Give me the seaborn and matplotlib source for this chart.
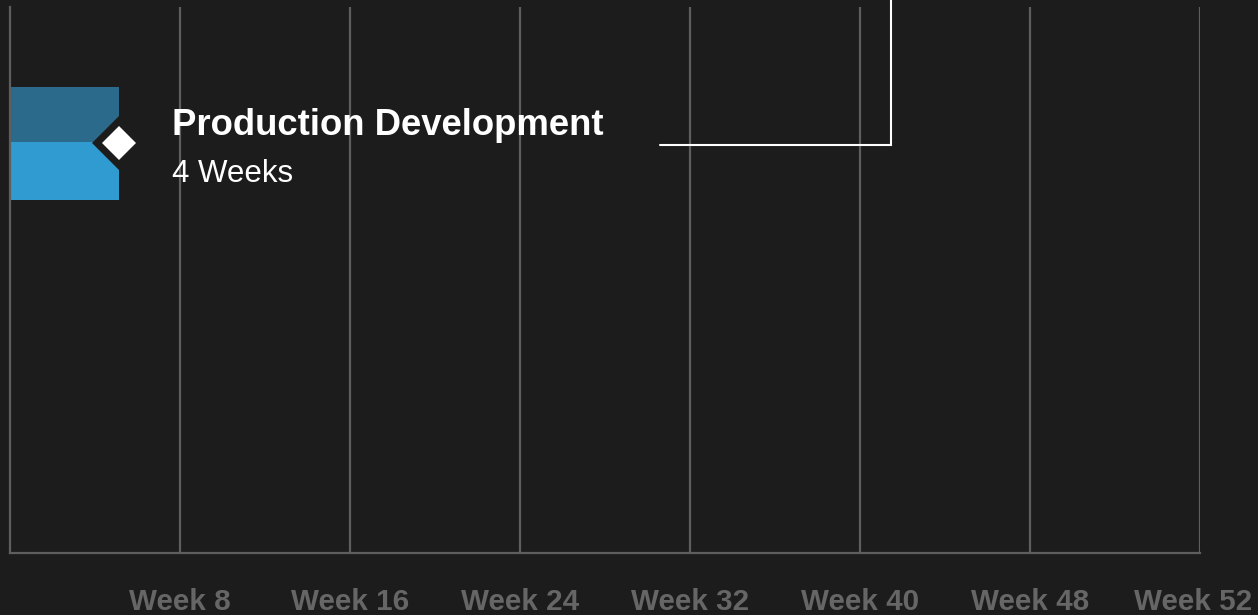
import numpy as np
import pandas as pd
import matplotlib
matplotlib.use("Agg")
import matplotlib.pyplot as plt
import matplotlib.transforms as mtransforms
import seaborn as sns

# data (x in weeks, y in px-like row units from the top)
task_name = "Production Development"
task_label = "4 Weeks"
task_start = 0.0
task_end = 5.13
row_top = 80
row_mid = 135
row_bottom = 193

tick_labels = ["Week 8", "Week 16", "Week 24", "Week 32", "Week 40", "Week 48", "Week 52"]
tick_weeks = [8, 16, 24, 32, 40, 48, 56]

connector_x = [30.6, 41.45, 41.45]
connector_y = [138, 138, -10]

BG = "#1c1c1c"
GRID = "#5e5e5e"

sns.set_theme(style="dark", rc={
    "figure.facecolor": BG,
    "axes.facecolor": BG,
    "savefig.facecolor": BG,
})
plt.rcParams["font.family"] = ["Liberation Sans", "DejaVu Sans"]

fig = plt.figure(figsize=(12.58, 6.15), dpi=100)
ax = fig.add_axes([10 / 1258, (615 - 553) / 615, 1190 / 1258, 546 / 615])

bars = pd.DataFrame({
    "part": ["top", "bottom"],
    "y0": [row_top, row_mid],
    "y1": [row_mid, row_bottom],
    "color": ["#2b6a8a", "#2f9bd1"],
})
for _, r in bars.iterrows():
    ax.barh((r.y0 + r.y1) / 2, task_end - task_start, height=r.y1 - r.y0,
            left=task_start, color=r.color, linewidth=0, zorder=1)

# milestone diamond with a notch in the background colour
ax.plot([task_end], [row_mid + 1], marker="D", ms=27.5, color=BG, mew=0, zorder=3)
ax.plot([task_end], [row_mid + 1], marker="D", ms=17.3, color="white", mew=0, zorder=4)

ax.text(7.62, row_mid - 7, task_name, color="white", fontsize=26.3, fontweight="bold",
        va="baseline", ha="left", zorder=5)
ax.text(7.62, row_bottom - 18, task_label, color="white", fontsize=22.5,
        va="baseline", ha="left", zorder=5)

# connector line running off the top
ax.plot(connector_x, connector_y, color="white", lw=1.5, clip_on=False,
        zorder=4, solid_joinstyle="miter")

ax.set_xlim(0, 56)
ax.set_ylim(546, 0)
ax.set_xticks(tick_weeks)
ax.set_xticklabels(tick_labels, fontsize=21.3, fontweight="bold", color="#666666")
ax.set_yticks([])
ax.tick_params(axis="x", length=0, pad=25.5)
last = ax.get_xticklabels()[-1]
last.set_transform(last.get_transform() +
                   mtransforms.ScaledTranslation(-7 / 100, 0, fig.dpi_scale_trans))
ax.set_axisbelow("line")
ax.grid(axis="x", color=GRID, lw=1.6)
ax.grid(axis="y", visible=False)
for s in ["top", "right"]:
    ax.spines[s].set_visible(False)
for s in ["left", "bottom"]:
    ax.spines[s].set_color(GRID)
    ax.spines[s].set_linewidth(1.6)
ax.set_xlabel("")
ax.set_ylabel("")

fig.savefig("out.png", dpi=100, facecolor=BG)
